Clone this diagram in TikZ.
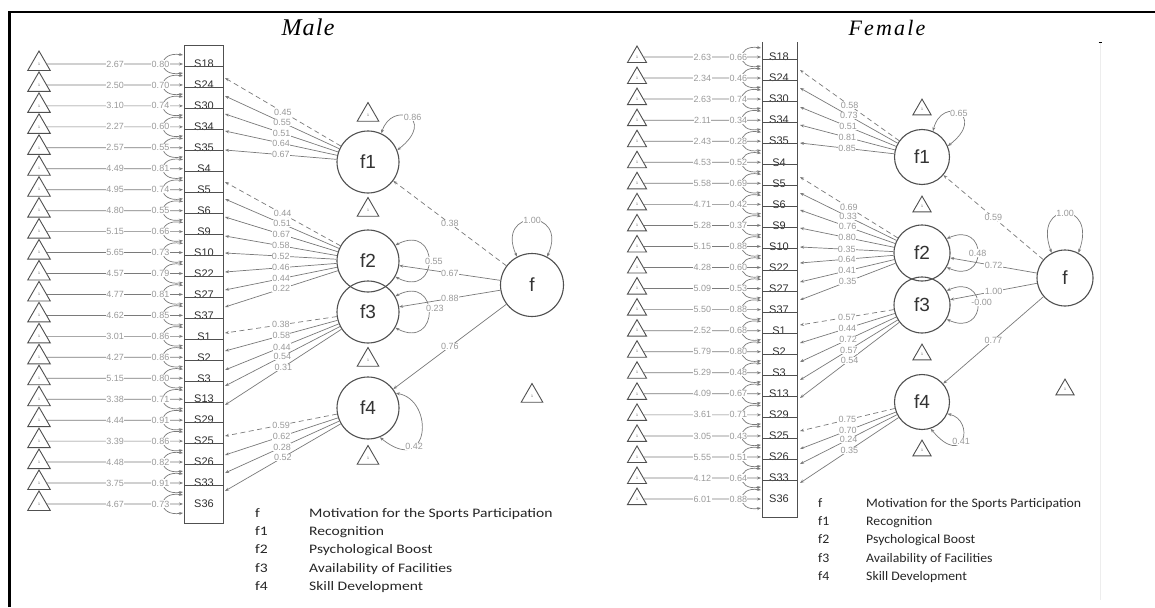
\documentclass[tikz,border=0pt]{standalone}
\usepackage{fontspec}
\setmainfont{Liberation Sans}
\newfontfamily\legfontL[FakeStretch=1.2]{Carlito}
\newfontfamily\legfontR[FakeStretch=1.06]{Carlito}
\newfontfamily\ttlfontA[LetterSpace=5]{Liberation Serif}
\newfontfamily\ttlfontB[LetterSpace=10]{Liberation Serif}
\usetikzlibrary{shapes.geometric,arrows.meta}
\definecolor{shp}{HTML}{505050}
\definecolor{edg}{HTML}{7a7a7a}
\definecolor{numc}{HTML}{9a9a9a}
\definecolor{itmc}{HTML}{303030}
\definecolor{faint}{HTML}{ededed}
\begin{document}
\begin{tikzpicture}[x=1pt,y=-1pt,
  tri/.style={regular polygon,regular polygon sides=3,draw=shp,line width=0.9pt,inner sep=0pt,minimum size=#1,font=\fontsize{3.5}{3.5}\selectfont,text=shp},
  tri/.default=26pt,
  lat/.style={circle,draw=shp,line width=1.1pt,minimum size=#1,inner sep=0pt,font=\fontsize{19}{19}\selectfont,text=black!80},
  itm/.style={font=\fontsize{11}{11}\selectfont,text=itmc,inner sep=0pt},
  arr/.style={draw=edg,line width=0.7pt,-{Stealth[length=4pt,width=3pt]}},
  dbl/.style={draw=edg,line width=0.7pt,{Stealth[length=4pt,width=3pt]}-{Stealth[length=4pt,width=3pt]}},
  lbl/.style={font=\fontsize{9}{9}\selectfont,text=numc,fill=white,inner sep=0.4pt},
  dsh/.style={dash pattern=on 5pt off 3.5pt},
  sld/.style={},
  rowline/.style={draw=shp,line width=0.8pt},
  legL/.style={font=\legfontL\fontsize{13}{13}\selectfont,text=black!85,anchor=base west,inner sep=0pt},
  legR/.style={font=\legfontR\fontsize{13}{13}\selectfont,text=black!85,anchor=base west,inner sep=0pt},
  ttlA/.style={font=\ttlfontA\itshape\fontsize{24}{24}\selectfont,anchor=base,inner sep=0pt},
  ttlB/.style={font=\ttlfontB\itshape\fontsize{22}{22}\selectfont,anchor=base,inner sep=0pt}
]
\useasboundingbox (0,0) rectangle (1155,607);
\fill[white] (0,0) rectangle (1155,607);
% frame
\draw[line width=2.2pt] (9.5,607) -- (9.5,12) -- (1155,12);
\draw[faint,line width=0.8pt] (1100,42) -- (1100,600);
\draw[black,line width=0.8pt] (1098.5,42) -- (1101.5,42);

% ================= MALE =================
\node[ttlA] (tm) at (308,36) {Male};
\node[draw=shp,line width=0.9pt,minimum width=39pt,minimum height=478pt,inner sep=0pt] (mbox) at (203.5,284) {};

\foreach \k/\nm/\mu/\va in {1/S18/2.67/0.80,2/S24/2.50/0.70,3/S30/3.10/0.74,4/S34/2.27/0.60,5/S35/2.57/0.55,6/S4/4.49/0.81,7/S5/4.95/0.74,8/S6/4.80/0.55,9/S9/5.15/0.66,10/S10/5.65/0.73,11/S22/4.57/0.79,12/S27/4.77/0.81,13/S37/4.62/0.85,14/S1/3.01/0.86,15/S2/4.27/0.86,16/S3/5.15/0.80,17/S13/3.38/0.71,18/S29/4.44/0.91,19/S25/3.39/0.86,20/S26/4.48/0.82,21/S33/3.75/0.91,22/S36/4.67/0.73}{
  \pgfmathsetmacro\yy{64+20.95*(\k-1)}
  \node[tri] (mT\k) at (39,\yy) {1};
  \coordinate (mI\k) at (183,\yy);
  \coordinate (mLa\k) at (183,\yy-9);
  \coordinate (mLb\k) at (183,\yy+9);
  \node[itm] (mS\k) at (204,\yy) {\nm};
  \draw[arr] (mT\k) -- (mI\k) node[lbl,pos=0.5]{\mu};
  \draw[dbl] (mLa\k) .. controls +(-26,-4) and +(-26,4) .. (mLb\k) node[lbl,pos=0.5,xshift=-3pt]{\va};
}
\foreach \k in {1,...,21}{
  \pgfmathsetmacro\yy{64+20.95*(\k-1)+2.7}
  \draw[rowline] (184,\yy) -- (223,\yy);
}

% factors
\node[lat=62pt] (mf1) at (368,162) {f1};
\node[lat=62pt] (mf2) at (368,261) {f2};
\node[lat=62pt] (mf3) at (368,312) {f3};
\node[lat=62pt] (mf4) at (368,408) {f4};
\node[lat=63pt] (mf) at (532,285) {f};
\node[tri=25pt] (mt1) at (368,115) {1};
\node[tri=25pt] (mt2) at (368,210) {1};
\node[tri=25pt] (mt3) at (368,360) {1};
\node[tri=25pt] (mt4) at (368,458) {1};
\node[tri=25pt] (mt5) at (532,396) {1};

\foreach \f/\k/\ye/\v/\st in {1/1/78/0.45/dsh,1/2/96/0.55/sld,1/3/114/0.51/sld,1/4/131/0.64/sld,1/5/150/0.67/sld,2/6/182/0.44/dsh,2/7/199/0.51/sld,2/8/217/0.67/sld,2/9/236/0.58/sld,2/10/253/0.52/sld,2/11/272/0.46/sld,2/12/290/0.44/sld,2/13/307/0.22/sld,3/14/333/0.38/dsh,3/15/351/0.58/sld,3/16/370/0.44/sld,3/17/386/0.54/sld,3/18/405/0.31/sld,4/19/436/0.59/dsh,4/20/455/0.62/sld,4/21/473/0.28/sld,4/22/491/0.52/sld}{
  \coordinate (mE\k) at (225,\ye);
  \draw[arr,\st] (mf\f) -- (mE\k);
}
\foreach \f/\k/\v in {1/1/0.45,1/2/0.55,1/3/0.51,1/4/0.64,1/5/0.67,2/6/0.44,2/7/0.51,2/8/0.67,2/9/0.58,2/10/0.52,2/11/0.46,2/12/0.44,2/13/0.22,3/14/0.38,3/15/0.58,3/16/0.44,3/17/0.54,3/18/0.31,4/19/0.59,4/20/0.62,4/21/0.28,4/22/0.52}{
  \path (mf\f) -- (mE\k) node[lbl,pos=0.5]{\v};
}

% second order paths
\draw[arr,dsh] (mf) -- (mf1);
\draw[arr] (mf) -- (mf2);
\draw[arr] (mf) -- (mf3);
\draw[arr] (mf) -- (mf4);
\path (mf) -- (mf1) node[lbl,pos=0.5]{0.38};
\path (mf) -- (mf2) node[lbl,pos=0.5]{0.67};
\path (mf) -- (mf3) node[lbl,pos=0.5]{0.88};
\path (mf) -- (mf4) node[lbl,pos=0.5]{0.76};

% variance loops
\draw[dbl] (mf1.65) .. controls (392,100) and (438,118) .. (mf1.22) node[lbl,pos=0.5,xshift=4pt]{0.86};
\draw[dbl] (mf2.30) .. controls (440,222) and (440,300) .. (mf2.-30) node[lbl,pos=0.5,xshift=5pt]{0.55};
\draw[dbl] (mf3.30) .. controls (440,273) and (440,351) .. (mf3.-30) node[lbl,pos=0.5,xshift=6pt,yshift=4pt]{0.23};
\draw[dbl] (mf4.28) .. controls (435,400) and (430,478) .. (mf4.-68) node[lbl,pos=0.68]{0.42};
\draw[dbl] (mf.118) .. controls (495,208) and (569,208) .. (mf.62) node[lbl,pos=0.5]{1.00};

% legend
\node[legL] (mlg0) at (255,517) {f};
\node[legL] (mlg1) at (255,535) {f1};
\node[legL] (mlg2) at (255,553) {f2};
\node[legL] (mlg3) at (255,572) {f3};
\node[legL] (mlg4) at (255,590) {f4};
\node[legL] (mlt0) at (309,517) {Motivation for the Sports Participation};
\node[legL] (mlt1) at (309,535) {Recognition};
\node[legL] (mlt2) at (309,553) {Psychological Boost};
\node[legL] (mlt3) at (309,572) {Availability of Facilities};
\node[legL] (mlt4) at (309,590) {Skill Development};

% ================= FEMALE =================
\node[ttlB] (tf) at (887,36) {Female};
\draw[draw=shp,line width=0.9pt] (762,42) -- (762,517) -- (797,517) -- (797,42);

\foreach \k/\nm/\mu/\va in {1/S18/2.63/0.66,2/S24/2.34/0.46,3/S30/2.63/0.74,4/S34/2.11/0.34,5/S35/2.43/0.28,6/S4/4.53/0.52,7/S5/5.58/0.69,8/S6/4.71/0.42,9/S9/5.28/0.37,10/S10/5.15/0.88,11/S22/4.28/0.60,12/S27/5.09/0.53,13/S37/5.50/0.88,14/S1/2.52/0.68,15/S2/5.79/0.80,16/S3/5.29/0.48,17/S13/4.09/0.67,18/S29/3.61/0.71,19/S25/3.05/0.43,20/S26/5.55/0.51,21/S33/4.12/0.64,22/S36/6.01/0.88}{
  \pgfmathsetmacro\yy{57+21.05*(\k-1)}
  \node[tri=22pt] (fT\k) at (637,\yy) {1};
  \coordinate (fI\k) at (761,\yy);
  \coordinate (fLa\k) at (761,\yy-9);
  \coordinate (fLb\k) at (761,\yy+9);
  \node[itm] (fS\k) at (779,\yy) {\nm};
  \draw[arr] (fT\k) -- (fI\k) node[lbl,pos=0.5]{\mu};
  \draw[dbl] (fLa\k) .. controls +(-25,-4) and +(-25,4) .. (fLb\k) node[lbl,pos=0.5,xshift=-4pt]{\va};
}
\foreach \k in {1,...,21}{
  \pgfmathsetmacro\yy{57+21.05*(\k-1)+2.4}
  \draw[rowline] (762,\yy) -- (797,\yy);
}

\node[lat=55pt] (ff1) at (922,157) {f1};
\node[lat=56pt] (ff2) at (922,253) {f2};
\node[lat=56pt] (ff3) at (922,305) {f3};
\node[lat=55pt] (ff4) at (922,402) {f4};
\node[lat=56pt] (ff) at (1065,278) {f};
\node[tri=21pt] (ft1) at (922,109.6) {1};
\node[tri=21pt] (ft2) at (922,206.6) {1};
\node[tri=21pt] (ft3) at (922,354.6) {1};
\node[tri=21pt] (ft4) at (922,450.6) {1};
\node[tri=21pt] (ft5) at (1065,389.6) {1};

\foreach \f/\k/\ye/\v/\st in {1/1/70/0.58/dsh,1/2/88/0.73/sld,1/3/107/0.51/sld,1/4/125/0.81/sld,1/5/143/0.85/sld,2/6/177/0.69/dsh,2/7/193/0.33/sld,2/8/210/0.76/sld,2/9/228/0.80/sld,2/10/247/0.35/sld,2/11/263/0.64/sld,2/12/282/0.41/sld,2/13/300/0.35/sld,3/14/325/0.57/dsh,3/15/343/0.44/sld,3/16/362/0.72/sld,3/17/380/0.57/sld,3/18/398/0.54/sld,4/19/431/0.75/dsh,4/20/449/0.70/sld,4/21/464/0.24/sld,4/22/483/0.35/sld}{
  \coordinate (fE\k) at (800,\ye);
  \draw[arr,\st] (ff\f) -- (fE\k);
}
\foreach \f/\k/\v in {1/1/0.58,1/2/0.73,1/3/0.51,1/4/0.81,1/5/0.85,2/6/0.69,2/7/0.33,2/8/0.76,2/9/0.80,2/10/0.35,2/11/0.64,2/12/0.41,2/13/0.35,3/14/0.57,3/15/0.44,3/16/0.72,3/17/0.57,3/18/0.54,4/19/0.75,4/20/0.70,4/21/0.24,4/22/0.35}{
  \path (ff\f) -- (fE\k) node[lbl,pos=0.5]{\v};
}

\draw[arr,dsh] (ff) -- (ff1);
\draw[arr] (ff) -- (ff2);
\draw[arr] (ff) -- (ff3);
\draw[arr] (ff) -- (ff4);
\path (ff) -- (ff1) node[lbl,pos=0.5]{0.59};
\path (ff) -- (ff2) node[lbl,pos=0.5]{0.72};
\path (ff) -- (ff3) node[lbl,pos=0.5]{1.00};
\path (ff) -- (ff4) node[lbl,pos=0.5]{0.77};

\draw[dbl] (ff1.67) .. controls (942,95) and (988,115) .. (ff1.23) node[lbl,pos=0.5]{0.65};
\draw[dbl] (ff2.30) .. controls (988,220) and (988,286) .. (ff2.-30) node[lbl,pos=0.5]{0.48};
\draw[dbl] (ff3.30) .. controls (988,272) and (988,338) .. (ff3.-30) node[lbl,pos=0.5,xshift=4pt,yshift=3pt]{-0.00};
\draw[dbl] (ff4.-25) .. controls (975,420) and (965,470) .. (ff4.-72) node[lbl,pos=0.55]{0.41};
\draw[dbl] (ff.118) .. controls (1032,200) and (1098,200) .. (ff.62) node[lbl,pos=0.5]{1.00};

\node[legR] (flg0) at (818,507) {f};
\node[legR] (flg1) at (818,525) {f1};
\node[legR] (flg2) at (818,543) {f2};
\node[legR] (flg3) at (818,562) {f3};
\node[legR] (flg4) at (818,580) {f4};
\node[legR] (flt0) at (866,507) {Motivation for the Sports Participation};
\node[legR] (flt1) at (866,525) {Recognition};
\node[legR] (flt2) at (866,543) {Psychological Boost};
\node[legR] (flt3) at (866,562) {Availability of Facilities};
\node[legR] (flt4) at (866,580) {Skill Development};
\end{tikzpicture}
\end{document}
